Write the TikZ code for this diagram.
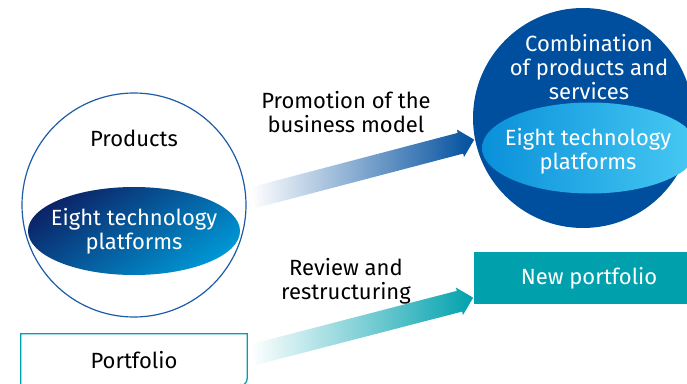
\documentclass[tikz,border=0pt]{standalone}
\usepackage{fontspec}
\setmainfont{Fira Sans}
\usetikzlibrary{shapes.geometric,shapes.arrows,calc}
\definecolor{ringblue}{HTML}{1D5BA8}
\definecolor{navy}{HTML}{0B2468}
\definecolor{lightblue}{HTML}{0096D4}
\definecolor{deepblue}{HTML}{004F9E}
\definecolor{skyblue}{HTML}{0A90DA}
\definecolor{paleblue}{HTML}{48CAF3}
\definecolor{pfteal}{HTML}{00A1AD}
\begin{document}
\begin{tikzpicture}[x=1pt,y=-1pt,
  lbl/.style={font=\fontsize{22}{24}\selectfont,align=center,inner sep=0pt},
  wlbl/.style={lbl,text=white},
  bigarrow/.style={single arrow,inner xsep=0pt,inner ysep=10.5pt,single arrow head extend=3.5pt,
    single arrow head indent=0pt,left color=white,middle color=#1,right color=#1}]
\useasboundingbox (0,0) rectangle (687,383);
\clip (0,0) rectangle (687,383);
% left side
\node[circle,draw=ringblue,line width=1.2pt,minimum size=224pt,inner sep=0pt] (prodc) at (134,205) {};
\node[lbl] (prod) at (134,138) {Products};
\node[ellipse,minimum width=212pt,minimum height=88pt,inner sep=0pt,top color=navy,
  bottom color=lightblue,shading angle=35] (tech1) at (134,231) {};
\node[wlbl] (tech1t) at (tech1) {Eight technology\\platforms};
\node[lbl,minimum width=226pt,minimum height=52pt] (pf) at (134,360) {Portfolio};
\draw[pfteal,line width=1.3pt] (pf.south west) -- (pf.north west) -- (pf.north east)
  [rounded corners=8pt] -- (pf.south east) -- (pf.south west);
% right side
\node[circle,fill=deepblue,minimum size=220pt,inner sep=0pt] (combc) at (583,118) {};
\node[wlbl] (comb) at (589,67) {Combination\\of products and\\services};
\node[ellipse,minimum width=216pt,minimum height=91pt,inner sep=0pt,left color=skyblue,
  right color=paleblue] (tech2) at (590,148) {};
\node[wlbl] (tech2t) at (588,151) {Eight technology\\platforms};
\node[wlbl,fill=pfteal,minimum width=230pt,minimum height=52pt] (npf) at (589,278) {New portfolio};
% arrows
\coordinate (a1s) at (248,199);
\coordinate (a1e) at (469,141);
\coordinate (a2s) at (248,356);
\coordinate (a2e) at (468,299);
\path let \p1=($(a1e)-(a1s)$) in node[bigarrow=deepblue,rotate={atan2(\y1,\x1)},
  minimum height={veclen(\x1,\y1)}] (promarrow) at ($(a1s)!0.5!(a1e)$) {};
\path let \p1=($(a2e)-(a2s)$) in node[bigarrow=pfteal,rotate={atan2(\y1,\x1)},
  minimum height={veclen(\x1,\y1)}] (revarrow) at ($(a2s)!0.5!(a2e)$) {};
\node[lbl] (prom) at (346,112) {Promotion of the\\business model};
\node[lbl] (rev) at (346,281) {Review and\\restructuring};
\end{tikzpicture}
\end{document}
